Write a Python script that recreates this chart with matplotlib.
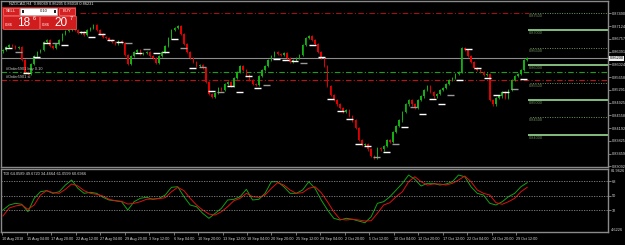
import matplotlib
matplotlib.use("Agg")
import matplotlib.pyplot as plt
from matplotlib.patches import Rectangle
import numpy as np

plt.rcParams['font.family'] = ['Liberation Sans', 'DejaVu Sans']

# ---------------- data ----------------
title_text = "NZDCAD,H4  0.86049 0.86205 0.86018 0.86231"
first_open = 0.8640
closes = [
    0.8644, 0.8652, 0.8658, 0.8655, 0.8649, 0.8652, 0.8615, 0.8580, 0.8575, 0.8603,
    0.8626, 0.8638, 0.8644, 0.8667, 0.8672, 0.8655, 0.8649, 0.8661, 0.8672, 0.8690,
    0.8698, 0.8701, 0.8710, 0.8701, 0.8693, 0.8695, 0.8687, 0.8701, 0.8707, 0.8716,
    0.8701, 0.8690, 0.8681, 0.8678, 0.8672, 0.8667, 0.8661, 0.8670, 0.8664, 0.8629,
    0.8603, 0.8626, 0.8638, 0.8644, 0.8632, 0.8635, 0.8638, 0.8626, 0.8621, 0.8606,
    0.8626, 0.8638, 0.8655, 0.8678, 0.8701, 0.8707, 0.8713, 0.8690, 0.8661, 0.8638,
    0.8621, 0.8609, 0.8598, 0.8601, 0.8592, 0.8552, 0.8517, 0.8509, 0.8520, 0.8534,
    0.8529, 0.8546, 0.8552, 0.8540, 0.8563, 0.8580, 0.8598, 0.8586, 0.8572, 0.8557,
    0.8546, 0.8543, 0.8569, 0.8586, 0.8598, 0.8615, 0.8626, 0.8638, 0.8632, 0.8629,
    0.8635, 0.8621, 0.8609, 0.8615, 0.8621, 0.8629, 0.8658, 0.8678, 0.8684, 0.8672,
    0.8661, 0.8638, 0.8621, 0.8598, 0.8540, 0.8514, 0.8500, 0.8488, 0.8477, 0.8466,
    0.8471, 0.8454, 0.8442, 0.8420, 0.8385, 0.8371, 0.8373, 0.8358, 0.8339, 0.8334,
    0.8362, 0.8358, 0.8368, 0.8385, 0.8379, 0.8408, 0.8425, 0.8442, 0.8466, 0.8488,
    0.8500, 0.8488, 0.8477, 0.8500, 0.8511, 0.8529, 0.8540, 0.8523, 0.8511, 0.8517,
    0.8529, 0.8534, 0.8546, 0.8557, 0.8563, 0.8575, 0.8580, 0.8649, 0.8644, 0.8626,
    0.8609, 0.8592, 0.8586, 0.8580, 0.8572, 0.8575, 0.8500, 0.8488, 0.8506, 0.8511,
    0.8523, 0.8506, 0.8529, 0.8557, 0.8569, 0.8575, 0.8586, 0.8615, 0.8621,
]

marker_pos = [0.6, 3.8, 6.4, 9.6, 12.8, 15.7, 18.6, 24.4, 27.2, 30.4, 33.3, 36.2, 39.1,
              42.3, 44.9, 48.1, 51.0, 53.8, 56.7, 59.6, 62.8, 65.7, 68.6, 71.8, 74.7,
              77.6, 80.4, 83.3, 86.5, 89.4, 92.3, 95.2, 98.1, 101.0, 103.8, 107.0,
              109.9, 112.8, 115.7, 118.6, 121.8, 124.7, 127.6, 130.4, 133.3, 136.5,
              139.4, 142.3, 145.2, 148.1, 151.0, 154.2, 157.0, 159.9, 162.8, 165.7]
marker_price = [0.8649, 0.8638, 0.8578, 0.8624, 0.8664, 0.8664, 0.8658, 0.8695, 0.8681,
                0.8690, 0.8672, 0.8667, 0.8664, 0.8635, 0.8647, 0.8635, 0.8638, 0.8675,
                0.8649, 0.8592, 0.8595, 0.8526, 0.8523, 0.8540, 0.8523, 0.8569, 0.8534,
                0.8543, 0.8618, 0.8615, 0.8612, 0.8606, 0.8658, 0.8624, 0.8503, 0.8468,
                0.8445, 0.8373, 0.8368, 0.8336, 0.8351, 0.8373, 0.8422, 0.8480, 0.8460,
                0.8503, 0.8488, 0.8514, 0.8557, 0.8647, 0.8592, 0.8563, 0.8514, 0.8523,
                0.8532, 0.8560]
marker_kind = ['w', 'g', 'w', 'w', 'w', 'g', 'w', 'w', 'w', 'w', 'w', 'w', 'g', 'w',
               'g', 'w', 'w', 'w', 'g', 'w', 'g', 'w', 'g', 'w', 'w', 'w', 'w', 'g',
               'w', 'w', 'w', 'g', 'w', 'w', 'w', 'w', 'w', 'w', 'w', 'g', 'w', 'g',
               'w', 'g', 'w', 'w', 'w', 'g', 'w', 'w', 'w', 'w', 'w', 'w', 'g', 'w']

fib_levels = [0.875, 0.870, 0.865, 0.860, 0.855, 0.850, 0.845, 0.840]
fib_labels = ["0.87500", "0.87000", "0.86500", "0.86000", "0.85500", "0.85000", "0.84500", "0.84000"]
fib_solid = [False, True, False, True, False, True, False, True]

buy_line = 0.8580
sl_line = 0.8557
tp_line = 0.8750
bid_price = 0.8620
bid_label = "0.86200"

price_ticks = [0.87490, 0.87124, 0.86757, 0.86391, 0.86024, 0.85658, 0.85291,
               0.84925, 0.84558, 0.84192, 0.83825, 0.83459, 0.83092]
price_tick_labels = ["0.87490", "0.87124", "0.86757", "0.86391", "0.86024", "0.85658",
                     "0.85291", "0.84925", "0.84558", "0.84192", "0.83825", "0.83459", "0.83092"]

tdi_title = "TDI 64.0589 49.6720 34.4664 61.0599 60.6966"
tdi_green = [32.0, 38.2, 40.3, 39.1, 29.9, 46.5, 54.7, 56.0, 52.7, 54.7, 63.0, 69.2, 58.9,
             52.7, 54.0, 52.7, 47.8, 44.4, 43.5, 42.3, 32.0, 42.3, 46.5, 47.8, 45.3, 46.5,
             50.6, 60.2, 60.9, 48.5, 38.2, 36.1, 27.9, 21.7, 27.9, 34.1, 44.4, 45.3, 48.5,
             57.7, 44.4, 45.3, 52.7, 67.1, 67.1, 60.9, 52.7, 52.7, 56.8, 67.1, 58.9, 44.4,
             32.0, 21.7, 19.6, 21.7, 20.5, 18.3, 16.2, 23.7, 40.3, 42.3, 48.5, 56.8, 65.1,
             75.4, 70.1, 61.8, 65.1, 65.1, 63.0, 64.3, 67.1, 75.4, 73.3, 60.9, 52.7, 50.6,
             40.3, 38.2, 42.3, 48.5, 52.7, 60.9, 65.9]
tdi_red = [24.6, 34.5, 37.0, 38.2, 32.9, 38.2, 50.6, 56.0, 53.5, 52.7, 57.7, 64.3, 61.8,
           56.0, 52.7, 51.5, 49.4, 45.3, 43.5, 42.8, 39.4, 40.3, 42.3, 45.3, 45.7, 46.0,
           47.3, 54.7, 60.2, 56.0, 46.5, 38.2, 32.0, 27.0, 25.8, 29.9, 36.1, 43.5, 46.5,
           52.7, 48.5, 47.8, 50.6, 58.9, 65.9, 63.0, 56.8, 52.7, 53.5, 58.9, 60.9, 53.5,
           42.3, 29.9, 20.5, 19.6, 20.5, 19.6, 18.3, 18.7, 27.9, 38.2, 41.1, 48.5, 54.7,
           67.1, 73.3, 67.1, 63.0, 64.3, 64.3, 63.0, 65.1, 69.2, 74.2, 67.1, 56.8, 52.7,
           50.6, 41.1, 39.1, 42.3, 46.5, 54.7, 60.2]
tdi_levels = [68, 50, 32]
tdi_top_label = "81.9626"
tdi_bottom_label = "4.6226"

time_labels = ["10 Aug 2018", "15 Aug 04:00", "17 Aug 20:00", "22 Aug 12:00", "27 Aug 04:00",
               "29 Aug 20:00", "3 Sep 12:00", "6 Sep 04:00", "10 Sep 20:00", "13 Sep 12:00",
               "18 Sep 04:00", "20 Sep 20:00", "25 Sep 12:00", "28 Sep 04:00", "2 Oct 20:00",
               "5 Oct 12:00", "10 Oct 04:00", "12 Oct 20:00", "17 Oct 12:00", "22 Oct 04:00",
               "24 Oct 20:00", "29 Oct 12:00"]

# ---------------- styling constants ----------------
W, H = 625, 245
BULL = "#12b012"
BEAR = "#e00000"
GRID = "#8a8a8a"
WICK = 0.00038
LABEL_STEP = 7.85   # bars between time labels

fig = plt.figure(figsize=(W / 100, H / 100), dpi=100, facecolor="black")

def px_rect(x0, y0, x1, y1):
    return [x0 / W, 1 - y1 / H, (x1 - x0) / W, (y1 - y0) / H]

XLIM = (-0.64, 193.9)

# ---------------- main price panel ----------------
ax = fig.add_axes(px_rect(1, 1, 608, 167), facecolor="black")
n = len(closes)
idx = np.arange(n)
opens = np.array([first_open] + closes[:-1])
cl = np.array(closes)
up = cl >= opens
colors = np.where(up, BULL, BEAR)
top = np.maximum(opens, cl)
bot = np.minimum(opens, cl)
ax.vlines(idx, bot - WICK, top + WICK, colors=colors, linewidth=0.6, zorder=3)
ax.bar(idx, np.maximum(top - bot, 0.00005), bottom=bot, width=0.5, color=colors,
       linewidth=0, zorder=4)

# daily markers
for p, v, k in zip(marker_pos, marker_price, marker_kind):
    ax.hlines(v, p, p + 2.2, colors="#ffffff" if k == 'w' else "#9a9a9a",
              linewidth=1.0, zorder=5)

# order lines
ax.axhline(bid_price, color="#8c8c8c", linewidth=0.8, zorder=2)
ax.axhline(buy_line, color="#18a018", linewidth=0.8, linestyle=(0, (5, 2, 1, 2)), zorder=2)
ax.axhline(sl_line, color="#c01010", linewidth=0.8, linestyle=(0, (5, 2, 1, 2)), zorder=2)
ax.hlines(tp_line, 24.7, n - 0.5, colors="#a01010", linewidth=0.8,
          linestyles=[(0, (5, 2, 1, 2))], zorder=2)
ax.text(1.0, buy_line + 0.0003, "#Order5901 buy 0.10", color="#c8c8c8", fontsize=2.8,
        va="bottom", ha="left", zorder=6)
ax.text(1.0, sl_line + 0.0003, "#Order5901 sl", color="#c8c8c8", fontsize=2.8,
        va="bottom", ha="left", zorder=6)

# level lines on the right
for lv, lab, solid in zip(fib_levels, fib_labels, fib_solid):
    if solid:
        ax.hlines(lv, n - 0.6, XLIM[1], colors="#a8f0a0", linewidth=1.1, zorder=2)
    else:
        ax.hlines(lv, n - 0.1, XLIM[1], colors="#6e9a5e", linewidth=0.7,
                  linestyles=[(0, (1, 1.5))], zorder=2)
    ax.text(n - 0.4, lv - 0.0003, lab, color="#6f9060", fontsize=2.8, va="top",
            ha="left", zorder=6)

ax.set_xlim(*XLIM)
ax.set_ylim(0.83075, 0.87845)
ax.set_xticks([])
ax.yaxis.tick_right()
ax.set_yticks(price_ticks)
ax.set_yticklabels(price_tick_labels)
ax.tick_params(axis="y", colors=GRID, labelcolor="#d8d8d8", labelsize=2.8, length=2,
               width=0.6, pad=1)
for s in ax.spines.values():
    s.set_color(GRID)
    s.set_linewidth(1.0)
ax.text(1.0025, (bid_price - 0.83075) / (0.87845 - 0.83075), bid_label,
        transform=ax.transAxes, fontsize=2.8, color="black", va="center", ha="left",
        bbox=dict(boxstyle="square,pad=0.15", fc="#f0f0f0", ec="none"), zorder=7)

# ---------------- TDI panel ----------------
ax2 = fig.add_axes(px_rect(1, 169, 608, 232), facecolor="black")
tx = np.arange(0, n, 2)
ax2.plot(tx, tdi_green, color="#14a014", linewidth=0.7)
ax2.plot(tx, tdi_red, color="#e01010", linewidth=0.7)
for lv in tdi_levels:
    ax2.axhline(lv, color="#8a8a8a", linewidth=0.6, linestyle=(0, (1.5, 1.5)))
ax2.set_xlim(*XLIM)
ax2.set_ylim(4.7, 82.9)
ax2.yaxis.tick_right()
ax2.set_yticks(tdi_levels)
ax2.set_yticklabels([str(v) for v in tdi_levels])
ax2.tick_params(axis="y", colors=GRID, labelcolor="#d8d8d8", labelsize=2.8, length=2,
                width=0.6, pad=1)
pos = [k * LABEL_STEP - 0.3 for k in range(len(time_labels))]
ax2.set_xticks(pos)
ax2.set_xticklabels(time_labels)
for t in ax2.get_xticklabels():
    t.set_horizontalalignment("left")
ax2.tick_params(axis="x", colors=GRID, labelcolor="#d8d8d8", labelsize=2.7, length=2,
                width=0.6, pad=1.5)
for s in ax2.spines.values():
    s.set_color(GRID)
    s.set_linewidth(1.0)
ax2.text(0.004, 0.96, tdi_title, transform=ax2.transAxes, color="#e0e0e0",
         fontsize=2.8, va="top", ha="left")
ax2.text(1.004, 1.0, tdi_top_label, transform=ax2.transAxes, color="#d8d8d8",
         fontsize=2.8, va="top", ha="left")
ax2.text(1.004, 0.0, tdi_bottom_label, transform=ax2.transAxes, color="#d8d8d8",
         fontsize=2.8, va="bottom", ha="left")

# ---------------- overlay: title and one-click trading panel ----------------
ov = fig.add_axes([0, 0, 1, 1], facecolor="none")
ov.set_xlim(0, W)
ov.set_ylim(H, 0)
ov.axis("off")
ov.text(9, 3.8, title_text, color="#e8e8e8", fontsize=2.8, va="center", ha="left")
ov.add_patch(Rectangle((2, 7), 74, 22, fc="#c81818", ec="none"))
ov.add_patch(Rectangle((3, 8), 16, 7, fc="#d42020", ec="#f07070", lw=0.5))
ov.add_patch(Rectangle((59, 8), 16, 7, fc="#d42020", ec="#f07070", lw=0.5))
ov.add_patch(Rectangle((20, 8), 37, 7, fc="#ffffff", ec="#c0c0c0", lw=0.4))
ov.add_patch(Rectangle((21.5, 10), 2.5, 3, fc="#222222", ec="none"))
ov.add_patch(Rectangle((53.5, 10), 2.5, 3, fc="#222222", ec="none"))
ov.text(11, 11.5, "SELL", color="white", fontsize=3, ha="center", va="center")
ov.text(67, 11.5, "BUY", color="white", fontsize=3, ha="center", va="center")
ov.text(44, 11.5, "0.10", color="#111111", fontsize=3, ha="center", va="center")
ov.add_patch(Rectangle((3, 16), 36, 13, fc="#d01c1c", ec="#f06060", lw=0.5))
ov.add_patch(Rectangle((40, 16), 36, 13, fc="#d01c1c", ec="#f06060", lw=0.5))
ov.text(5, 24.5, "0.86", color="white", fontsize=3, ha="left", va="center")
ov.text(17, 23, "18", color="white", fontsize=8.5, ha="left", va="center")
ov.text(32.5, 19, "6", color="white", fontsize=4, ha="left", va="center")
ov.text(42, 24.5, "0.86", color="white", fontsize=3, ha="left", va="center")
ov.text(54, 23, "20", color="white", fontsize=8.5, ha="left", va="center")
ov.text(69.5, 19, "7", color="white", fontsize=4, ha="left", va="center")

fig.savefig("out.png", dpi=100, facecolor="black")
